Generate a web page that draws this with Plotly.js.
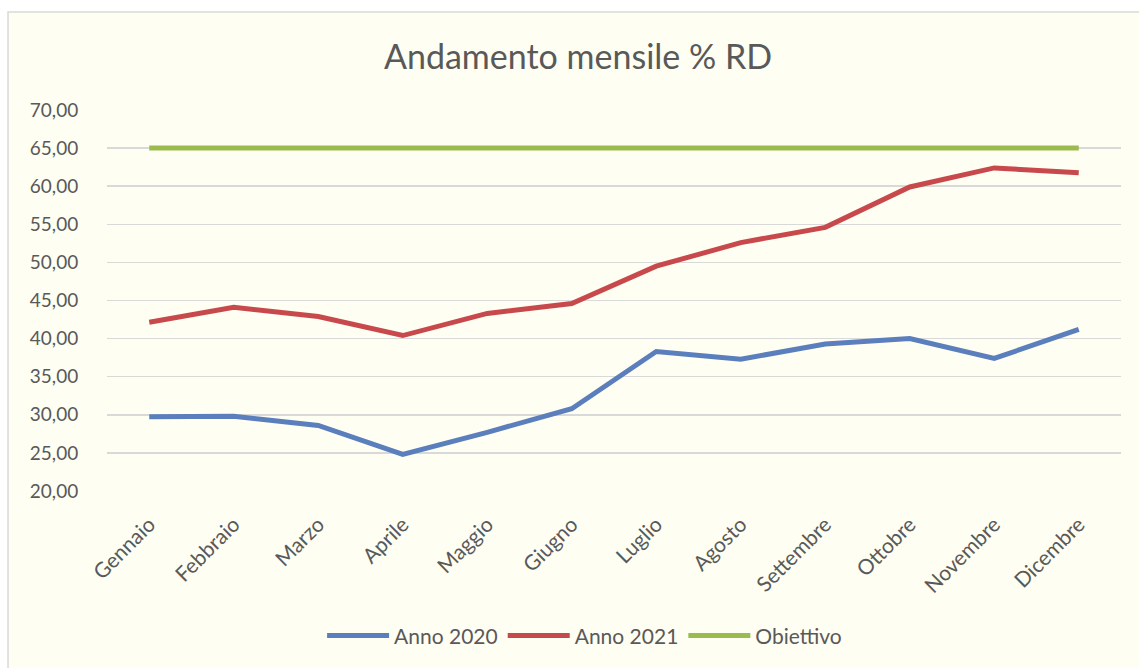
<!DOCTYPE html>
<html>
<head>
<meta charset="utf-8">
<script src="https://cdn.plot.ly/plotly-3.0.1.min.js"></script>
<style>
  html, body { margin: 0; padding: 0; background: #ffffff; }
  #chart { width: 1139px; height: 668px; }
</style>
</head>
<body>
<div id="chart"></div>
<script>
const mesi = ["Gennaio","Febbraio","Marzo","Aprile","Maggio","Giugno","Luglio","Agosto","Settembre","Ottobre","Novembre","Dicembre"];
const anno2020 = [29.74, 29.8, 28.6, 24.8, 27.7, 30.8, 38.3, 37.3, 39.3, 40.0, 37.4, 41.2];
const anno2021 = [42.15, 44.1, 42.9, 40.4, 43.3, 44.6, 49.5, 52.6, 54.6, 59.9, 62.4, 61.75];
const obiettivo = [65, 65, 65, 65, 65, 65, 65, 65, 65, 65, 65, 65];
const yTicks = [20, 25, 30, 35, 40, 45, 50, 55, 60, 65, 70];

const FONT = "Lato, 'Open Sans', 'DejaVu Sans', sans-serif";
const TXT = "#595959";

const traces = [
  { x: mesi, y: anno2020, name: "Anno 2020", type: "scatter", mode: "lines",
    line: { color: "#5B7EBC", width: 5, shape: "linear" } },
  { x: mesi, y: anno2021, name: "Anno 2021", type: "scatter", mode: "lines",
    line: { color: "#C8494B", width: 5 } },
  { x: mesi, y: obiettivo, name: "Obiettivo", type: "scatter", mode: "lines",
    line: { color: "#9BBB4F", width: 5 } }
];

const layout = {
  width: 1139, height: 668,
  paper_bgcolor: "#ffffff",
  plot_bgcolor: "rgba(0,0,0,0)",
  separators: ",.",
  margin: { l: 107, r: 18, t: 110, b: 177 },
  font: { family: FONT, color: TXT, size: 19 },
  title: { text: "Andamento mensile % RD", xref: "container", x: 0.5075, xanchor: "center",
           yref: "container", y: 0.915, yanchor: "middle",
           font: { family: FONT, size: 34, color: TXT } },
  showlegend: true,
  legend: { orientation: "h", x: 0.471, xanchor: "center", y: -0.38, yanchor: "middle",
            font: { family: FONT, size: 21, color: TXT }, bgcolor: "rgba(0,0,0,0)",
            itemwidth: 62, tracegroupgap: 0 },
  xaxis: { type: "category", range: [-0.5, 11.5], showgrid: false, zeroline: false,
           showline: false, tickangle: -45, ticks: "outside", ticklen: 12,
           tickcolor: "rgba(0,0,0,0)", tickfont: { family: FONT, size: 21, color: TXT },
           fixedrange: true },
  yaxis: { range: [20, 70], tickvals: yTicks, tickformat: ".2f", showgrid: true,
           gridcolor: "#D9D9D9", gridwidth: 1.5, zeroline: false, showline: false,
           ticks: "outside", ticklen: 24, tickcolor: "rgba(0,0,0,0)",
           tickfont: { family: FONT, size: 19, color: TXT }, fixedrange: true },
  shapes: [
    { type: "rect", xref: "paper", yref: "paper", layer: "below",
      x0: -0.0976, x1: 1.2, y0: -1.0, y1: 1.257,
      fillcolor: "#FEFEF3", line: { color: "#D9D9D9", width: 1.5 } }
  ]
};

Plotly.newPlot("chart", traces, layout, { displayModeBar: false, staticPlot: true });
</script>
</body>
</html>
